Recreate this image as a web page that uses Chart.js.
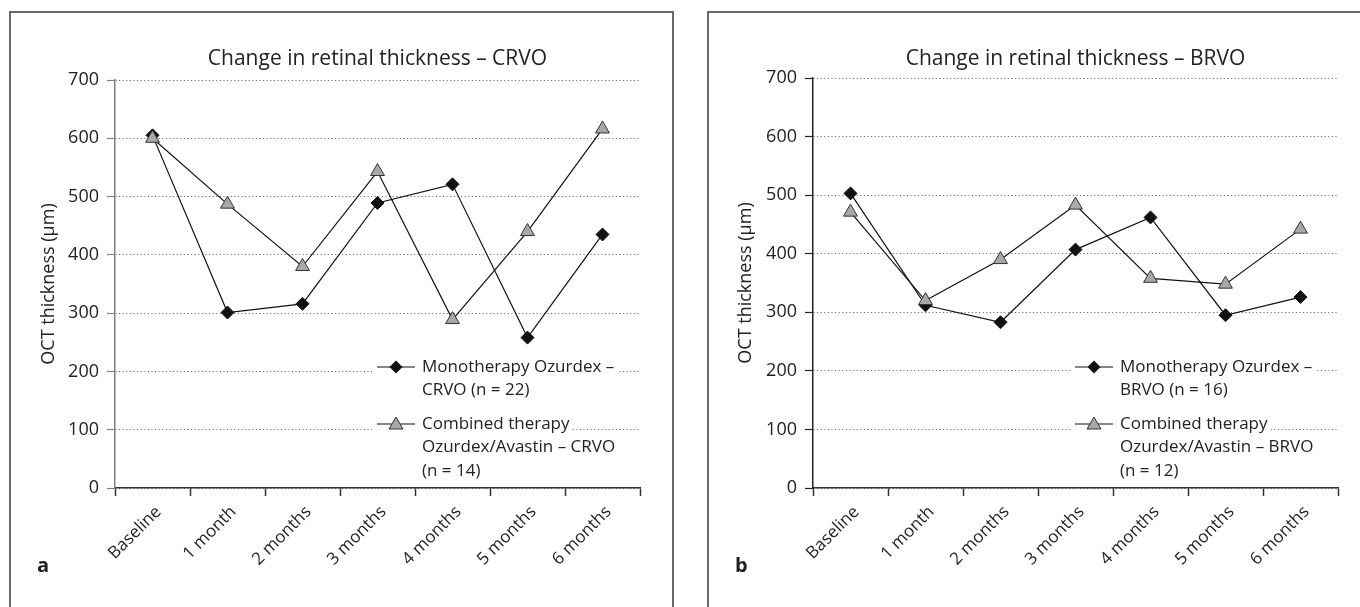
<!DOCTYPE html>
<html><head><meta charset="utf-8">
<script src="https://cdn.jsdelivr.net/npm/chart.js@4.4.1/dist/chart.umd.min.js"></script>
<style>
html,body{margin:0;padding:0;width:1360px;height:607px;overflow:hidden;background:#fff;}
canvas{position:absolute;top:0;}
#cL{left:0}
#cR{left:680px}
.panel{position:absolute;border:2px solid #6a6a6a;box-sizing:border-box;}
#pL{left:9px;top:11px;width:665px;height:700px}
#pR{left:707px;top:11px;width:700px;height:700px}
</style></head><body>
<div class="panel" id="pL"></div><div class="panel" id="pR"></div>
<canvas id="cL" width="680" height="607"></canvas>
<canvas id="cR" width="680" height="607"></canvas>
<script>
const categories = ['Baseline', '1 month', '2 months', '3 months', '4 months', '5 months', '6 months'];
const crvoMono = [605, 301, 316, 489, 521, 258, 435];
const crvoCombined = [600, 487, 380, 543, 289, 440, 616];
const brvoMono = [503, 312, 283, 407, 462, 295, 326];
const brvoCombined = [471, 320, 390, 483, 358, 348, 442];
const crvoLegend = [['Monotherapy Ozurdex –', 'CRVO (n = 22)'], ['Combined therapy', 'Ozurdex/Avastin – CRVO', '(n = 14)']];
const brvoLegend = [['Monotherapy Ozurdex –', 'BRVO (n = 16)'], ['Combined therapy', 'Ozurdex/Avastin – BRVO', '(n = 12)']];
const crvoTitle = 'Change in retinal thickness – CRVO';
const brvoTitle = 'Change in retinal thickness – BRVO';
const yAxisTitle = 'OCT thickness (µm)';

Chart.defaults.font.family = '"Open Sans", "Noto Sans", sans-serif';
Chart.defaults.color = '#222';

const decor = {
  id: 'decor',
  afterDraw(chart, args, opts) {
    const ctx = chart.ctx, a = chart.chartArea;
    ctx.save();
    ctx.fillStyle = '#222';
    ctx.font = '21px "Open Sans"';
    ctx.textAlign = 'center';
    ctx.textBaseline = 'alphabetic';
    ctx.fillText(opts.title, (a.left + a.right) / 2, 65);
    ctx.font = 'bold 20px "Open Sans"';
    ctx.textAlign = 'left';
    ctx.fillText(opts.letter, opts.letterX, 572);
    // legend
    const symX = a.left + 262, textX = a.left + 307;
    const y0 = a.bottom - 121, lineH = 23.5, itemGap = 57;
    ctx.font = '17px "Open Sans"';
    ctx.textBaseline = 'middle';
    opts.legend.forEach((lines, i) => {
      const y = y0 + i * itemGap;
      lines.forEach((t, j) => {
        const yy = y + j * lineH;
        const w = ctx.measureText(t).width;
        const x0 = j === 0 ? symX - 4 : textX - 3;
        ctx.fillStyle = '#fff';
        ctx.fillRect(x0, yy - 11, textX + w + 3 - x0, 22);
        ctx.fillStyle = '#222';
        ctx.fillText(t, textX, yy);
      });
      ctx.strokeStyle = '#111';
      ctx.lineWidth = 1.2;
      ctx.beginPath();
      ctx.moveTo(symX, y); ctx.lineTo(symX + 38, y); ctx.stroke();
      const cx = symX + 19;
      ctx.beginPath();
      if (i === 0) {
        ctx.moveTo(cx, y - 6.5); ctx.lineTo(cx + 6.5, y); ctx.lineTo(cx, y + 6.5); ctx.lineTo(cx - 6.5, y); ctx.closePath();
        ctx.fillStyle = '#111'; ctx.fill();
      } else {
        ctx.moveTo(cx, y - 7); ctx.lineTo(cx + 7, y + 5); ctx.lineTo(cx - 7, y + 5); ctx.closePath();
        ctx.fillStyle = '#a8a8a8'; ctx.fill();
        ctx.strokeStyle = '#333'; ctx.lineWidth = 1; ctx.stroke();
      }
    });
    ctx.restore();
  }
};

function makeChart(id, title, letter, letterX, mono, comb, legend, g) {
  return new Chart(document.getElementById(id), {
    type: 'line',
    data: {
      labels: categories,
      datasets: [
        { label: legend[0].join(' '), data: mono, borderColor: '#111', borderWidth: 1.2,
          pointStyle: 'rectRot', pointRadius: 6.5, pointBackgroundColor: '#111', pointBorderColor: '#111',
          pointBorderWidth: 1, tension: 0, fill: false, order: 1 },
        { label: legend[1].join(' '), data: comb, borderColor: '#111', borderWidth: 1.2,
          pointStyle: 'triangle', pointRadius: 8, pointBackgroundColor: '#a8a8a8', pointBorderColor: '#333',
          pointBorderWidth: 1, tension: 0, fill: false, order: 0 }
      ]
    },
    options: {
      responsive: false, animation: false, devicePixelRatio: 1,
      layout: { padding: { left: g.padLeft, right: g.padRight, top: g.padTop, bottom: 19 } },
      plugins: { legend: { display: false }, title: { display: false }, tooltip: { enabled: false },
        decor: { title: title, letter: letter, letterX: letterX, legend: legend } },
      scales: {
        x: {
          type: 'category', offset: true,
          grid: { offset: true, drawOnChartArea: false, drawTicks: true, tickLength: 8, tickColor: '#333', tickWidth: 1.5 },
          border: { color: '#333', width: 1.5 },
          ticks: { font: { size: 17 }, color: '#222', minRotation: 45, maxRotation: 45, padding: 6, labelOffset: 6, autoSkip: false },
          afterFit(s) { s.height = 100; }
        },
        y: {
          min: 0, max: 700,
          ticks: { stepSize: 100, font: { size: 18 }, color: '#222', padding: 8 },
          grid: { color: '#555', lineWidth: 1, drawTicks: true, tickLength: 8, tickColor: g.yColor, tickWidth: 1.2, tickBorderDash: [] },
          border: { dash: [1, 2.6], color: g.yColor, width: 1.5 },
          title: { display: true, text: yAxisTitle, font: { size: 18 }, color: '#222', padding: { top: 28, bottom: 0 } },
          afterFit(s) { s.width = g.yWidth; }
        }
      }
    },
    plugins: [decor]
  });
}

makeChart('cL', crvoTitle, 'a', 37, crvoMono, crvoCombined, crvoLegend,
  { padLeft: 10, yWidth: 105, padRight: 40, padTop: 80, yColor: '#808080' });
makeChart('cR', brvoTitle, 'b', 55, brvoMono, brvoCombined, brvoLegend,
  { padLeft: 27, yWidth: 106, padRight: 22, padTop: 78, yColor: '#222' });
</script>
</body></html>
